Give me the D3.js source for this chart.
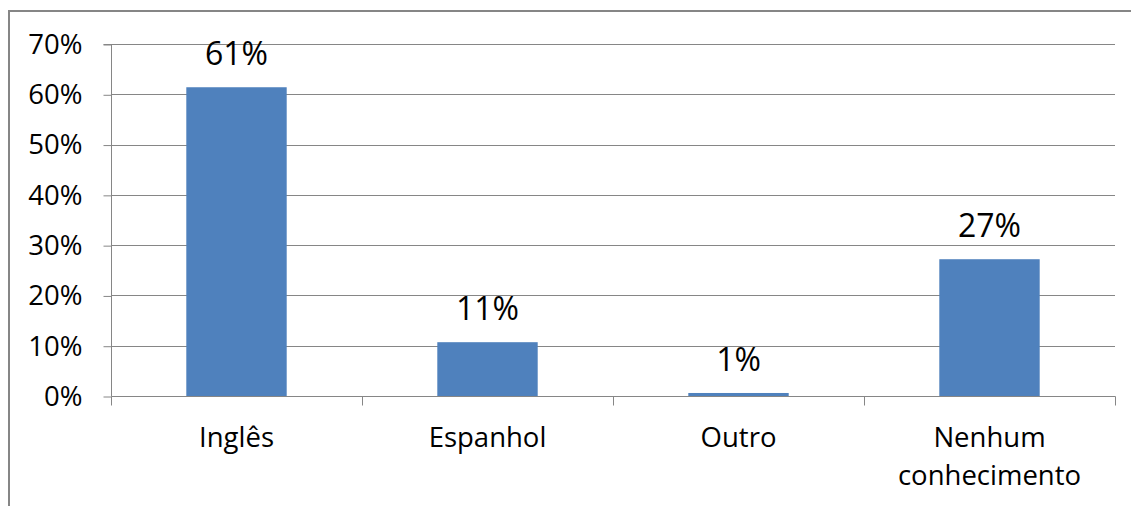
<!DOCTYPE html>
<html><head><meta charset="utf-8">
<script src="https://cdn.jsdelivr.net/npm/d3@7"></script>
<style>body{margin:0;background:#fff}svg text{font-family:"Open Sans",sans-serif;fill:#000}</style>
</head><body><svg id="c" width="1131" height="506"></svg>
<script>
const categories = [["Inglês"], ["Espanhol"], ["Outro"], ["Nenhum", "conhecimento"]];
const values = [0.614, 0.107, 0.006, 0.272];
const labels = ["61%", "11%", "1%", "27%"];
const yTicks = [0, 0.1, 0.2, 0.3, 0.4, 0.5, 0.6, 0.7];

const svg = d3.select("#c");
svg.append("rect").attr("x", 9).attr("y", 11).attr("width", 1140).attr("height", 520)
  .attr("fill", "none").attr("stroke", "#868686").attr("stroke-width", 2);

const x0 = 111, x1 = 1115, yTop = 44, yBot = 396;
const x = d3.scaleBand().domain(d3.range(categories.length)).range([x0, x1]).paddingInner(0.6).paddingOuter(0.3);
const xb = d3.scaleBand().domain(d3.range(categories.length)).range([x0, x1]);
const y = d3.scaleLinear().domain([0, 0.7]).range([yBot, yTop]);

svg.append("g").selectAll("line").data(yTicks.slice(1)).join("line")
  .attr("x1", x0).attr("x2", x1).attr("y1", d => Math.round(y(d)) + 0.5).attr("y2", d => Math.round(y(d)) + 0.5)
  .attr("stroke", "#868686").attr("stroke-width", 1);

const ya = svg.append("g").attr("transform", `translate(${x0 + 0.5},0.5)`)
  .call(d3.axisLeft(y).tickValues(yTicks).tickFormat(d3.format(".0%")).tickSize(8).tickPadding(21));
ya.select(".domain").attr("stroke", "#868686").attr("d", `M-8,${yTop}H0V${yBot}`);
ya.selectAll(".tick line").attr("stroke", "#868686");
ya.selectAll(".tick text").attr("font-size", 27.5).attr("font-family", "Open Sans").attr("fill", "#000");

svg.append("g").selectAll("rect").data(values).join("rect")
  .attr("x", (d, i) => x(i)).attr("width", x.bandwidth())
  .attr("y", d => y(d)).attr("height", d => yBot - y(d))
  .attr("fill", "#4F81BD");

const xa = svg.append("g").attr("transform", `translate(0.5,${yBot + 0.5})`);
xa.append("line").attr("x1", x0).attr("x2", x1).attr("stroke", "#868686");
xa.selectAll(".t").data(d3.range(categories.length + 1)).join("line")
  .attr("x1", i => i < categories.length ? xb(i) : x1).attr("x2", i => i < categories.length ? xb(i) : x1)
  .attr("y1", 0).attr("y2", 9).attr("stroke", "#868686");

const cl = svg.append("g").selectAll("text").data(categories).join("text")
  .attr("x", (d, i) => xb(i) + xb.bandwidth() / 2).attr("y", 447)
  .attr("text-anchor", "middle").attr("font-size", 27.5);
cl.selectAll("tspan").data(d => d).join("tspan")
  .attr("x", function () { return d3.select(this.parentNode).attr("x"); })
  .attr("dy", (d, j) => j === 0 ? 0 : 38).text(d => d);

svg.append("g").selectAll("text").data(values).join("text")
  .attr("x", (d, i) => x(i) + x.bandwidth() / 2).attr("y", d => y(d) - 22)
  .attr("text-anchor", "middle").attr("font-size", 32).text((d, i) => labels[i]);
</script></body></html>
